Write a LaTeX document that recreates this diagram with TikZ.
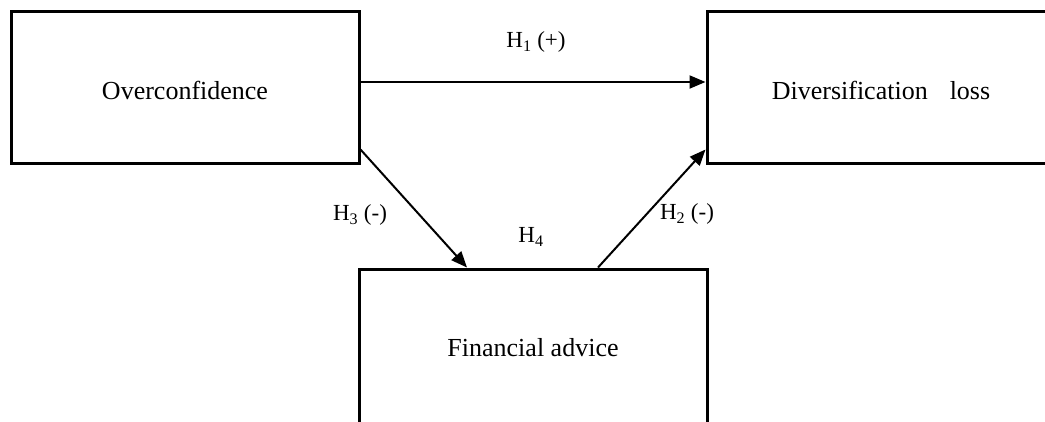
\documentclass[tikz,border=0pt]{standalone}
\usepackage{fontspec}
\setmainfont{Liberation Serif}
\usetikzlibrary{arrows.meta}
\tikzset{
  box/.style={draw=black, line width=3pt, rectangle, inner sep=0pt},
  boxtext/.style={font=\fontsize{26}{30}\selectfont},
  hlabel/.style={font=\fontsize{23}{27}\selectfont, inner sep=0pt},
  link/.style={line width=2pt, -{Triangle[length=16pt,width=13pt]}}
}
\begin{document}
\begin{tikzpicture}[x=1pt,y=-1pt]
\useasboundingbox (0,0) rectangle (1045,421);
\clip (0,0) rectangle (1045,421);
\fill[white] (0,0) rectangle (1045,421);
% boxes
\node[box, minimum width=348pt, minimum height=152pt] (oc) at (185,87) {};
\node[box, minimum width=348pt, minimum height=152pt] (dl) at (881,87) {};
\node[box, minimum width=348pt, minimum height=156pt] (fa) at (533,347) {};
% texts
\node[boxtext] (toc) at (185,90) {Overconfidence};
\node[boxtext] (tdl) at (881,90) {Diversification\hspace{22pt}loss};
\node[boxtext] (tfa) at (533,348) {Financial advice};
% connectors
\draw[link] ([yshift=5pt]oc.east) -- ([yshift=5pt]dl.west);
\draw[link] ([yshift=15pt]oc.south east) -- ([xshift=-66pt]fa.north);
\draw[link] ([xshift=65pt]fa.north) -- ([yshift=15pt]dl.south west);
% labels
\node[hlabel] (h1) at (536,42) {H\textsubscript{1} (+)};
\node[hlabel] (h3) at (360,215) {H\textsubscript{3} (-)};
\node[hlabel] (h4) at (531,237) {H\textsubscript{4}};
\node[hlabel] (h2) at (687,214) {H\textsubscript{2} (-)};
\end{tikzpicture}
\end{document}
